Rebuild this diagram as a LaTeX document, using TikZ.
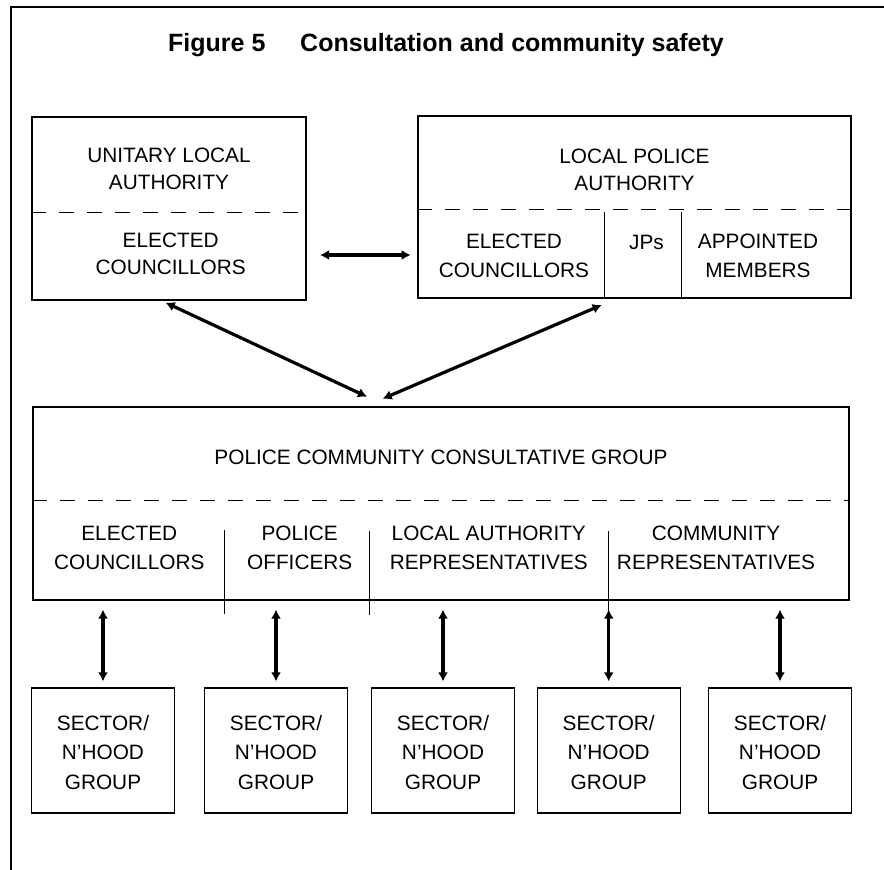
\documentclass[tikz,border=0pt]{standalone}
\usepackage{fontspec}
\setmainfont{Liberation Sans}
\usetikzlibrary{arrows.meta}
\tikzstyle{every node}=[inner sep=0pt,align=center,font=\fontsize{20.8}{29.5}\selectfont]
\tikzstyle{box}=[draw,line width=1.2pt]
\tikzstyle{halfline}=[line width=1pt,dash pattern=on 15pt off 13pt]
\tikzstyle{divider}=[line width=0.9pt]
\tikzstyle{link}=[line width=3.2pt,{Latex[length=9pt,width=10pt]}-{Latex[length=9pt,width=10pt]}]

\begin{document}
\begin{tikzpicture}[x=1pt,y=-1pt]
  \useasboundingbox (0,0) rectangle (884,870);
  \draw[line width=2pt] (11,870) -- (11,7) -- (884,7);
  \node[anchor=base west,font=\fontsize{25}{30}\selectfont\bfseries] (fig) at (168,51) {Figure 5};
  \node[anchor=base west,font=\fontsize{25}{30}\selectfont\bfseries] (title) at (300,51) {Consultation and community safety};

  \node[box,minimum width=274,minimum height=183] (ula) at (169,208.5) {};
  \draw[halfline] (ula.west |- 0,212) -- (ula.east |- 0,212);
  \node[font=\fontsize{20.8}{27}\selectfont] (ulatop) at (169,169) {UNITARY LOCAL\\AUTHORITY};
  \node[font=\fontsize{20.8}{27}\selectfont] (ulacouncil) at (170.7,254) {ELECTED\\COUNCILLORS};

  \node[box,minimum width=433,minimum height=182] (lpa) at (634.5,207) {};
  \draw[halfline] (lpa.west |- 0,209.5) -- (lpa.east |- 0,209.5);
  \draw[divider] (604.3,212) -- (604.3,297);
  \draw[divider] (681.7,212) -- (681.7,297);
  \node[font=\fontsize{20.8}{27}\selectfont] (lpatop) at (634.5,170) {LOCAL POLICE\\AUTHORITY};
  \node (lpacouncil) at (514,255.6) {ELECTED\\COUNCILLORS};
  \node[anchor=base] (jps) at (646.5,249.3) {JPs};
  \node (appointed) at (758,255.6) {APPOINTED\\MEMBERS};

  \node[box,minimum width=816,minimum height=193] (pccg) at (441,503.5) {};
  \draw[halfline] (pccg.west |- 0,500.7) -- (pccg.east |- 0,500.7);
  \draw[divider] (224.3,530) -- (224.3,614.3);
  \draw[divider] (369.3,531) -- (369.3,615.3);
  \draw[divider] (608.5,531) -- (608.5,615);
  \node[anchor=base] (pccgtop) at (441,464) {POLICE COMMUNITY CONSULTATIVE GROUP};
  \node (pccgcouncil) at (129.3,548) {ELECTED\\COUNCILLORS};
  \node (officers) at (299.7,548) {POLICE\\OFFICERS};
  \node (lareps) at (488.8,548) {LOCAL AUTHORITY\\REPRESENTATIVES};
  \node (commreps) at (716,548) {COMMUNITY\\REPRESENTATIVES};

  \node[box,minimum width=143,minimum height=125] (g1) at (103,750.5) {};
  \node[box,minimum width=143,minimum height=125] (g2) at (276,750.5) {};
  \node[box,minimum width=143,minimum height=125] (g3) at (443,750.5) {};
  \node[box,minimum width=143,minimum height=125] (g4) at (608.7,750.5) {};
  \node[box,minimum width=143,minimum height=125] (g5) at (780,750.5) {};
  \node (g1text) at (103,752.5) {SECTOR/\\N'HOOD\\GROUP};
  \node (g2text) at (276,752.5) {SECTOR/\\N'HOOD\\GROUP};
  \node (g3text) at (443,752.5) {SECTOR/\\N'HOOD\\GROUP};
  \node (g4text) at (608.7,752.5) {SECTOR/\\N'HOOD\\GROUP};
  \node (g5text) at (780,752.5) {SECTOR/\\N'HOOD\\GROUP};

  \coordinate (ulaend) at (320,255);
  \coordinate (lpaend) at (410.7,255);
  \draw[link] (ulaend) -- (lpaend);
  \coordinate (ulafoot) at (165.7,302.7);
  \coordinate (lpafoot) at (601.7,305);
  \coordinate (meetleft) at (367,396.7);
  \coordinate (meetright) at (382.7,398.7);
  \draw[link] (ulafoot) -- (meetleft);
  \draw[link] (meetright) -- (lpafoot);

  \draw[link,shorten <=9pt,shorten >=6pt] (g1.north |- pccg.south) -- (g1.north);
  \draw[link,shorten <=9pt,shorten >=6pt] (g2.north |- pccg.south) -- (g2.north);
  \draw[link,shorten <=9pt,shorten >=6pt] (g3.north |- pccg.south) -- (g3.north);
  \draw[link,shorten <=9pt,shorten >=6pt] (g4.north |- pccg.south) -- (g4.north);
  \draw[link,shorten <=9pt,shorten >=6pt] (g5.north |- pccg.south) -- (g5.north);
\end{tikzpicture}
\end{document}
